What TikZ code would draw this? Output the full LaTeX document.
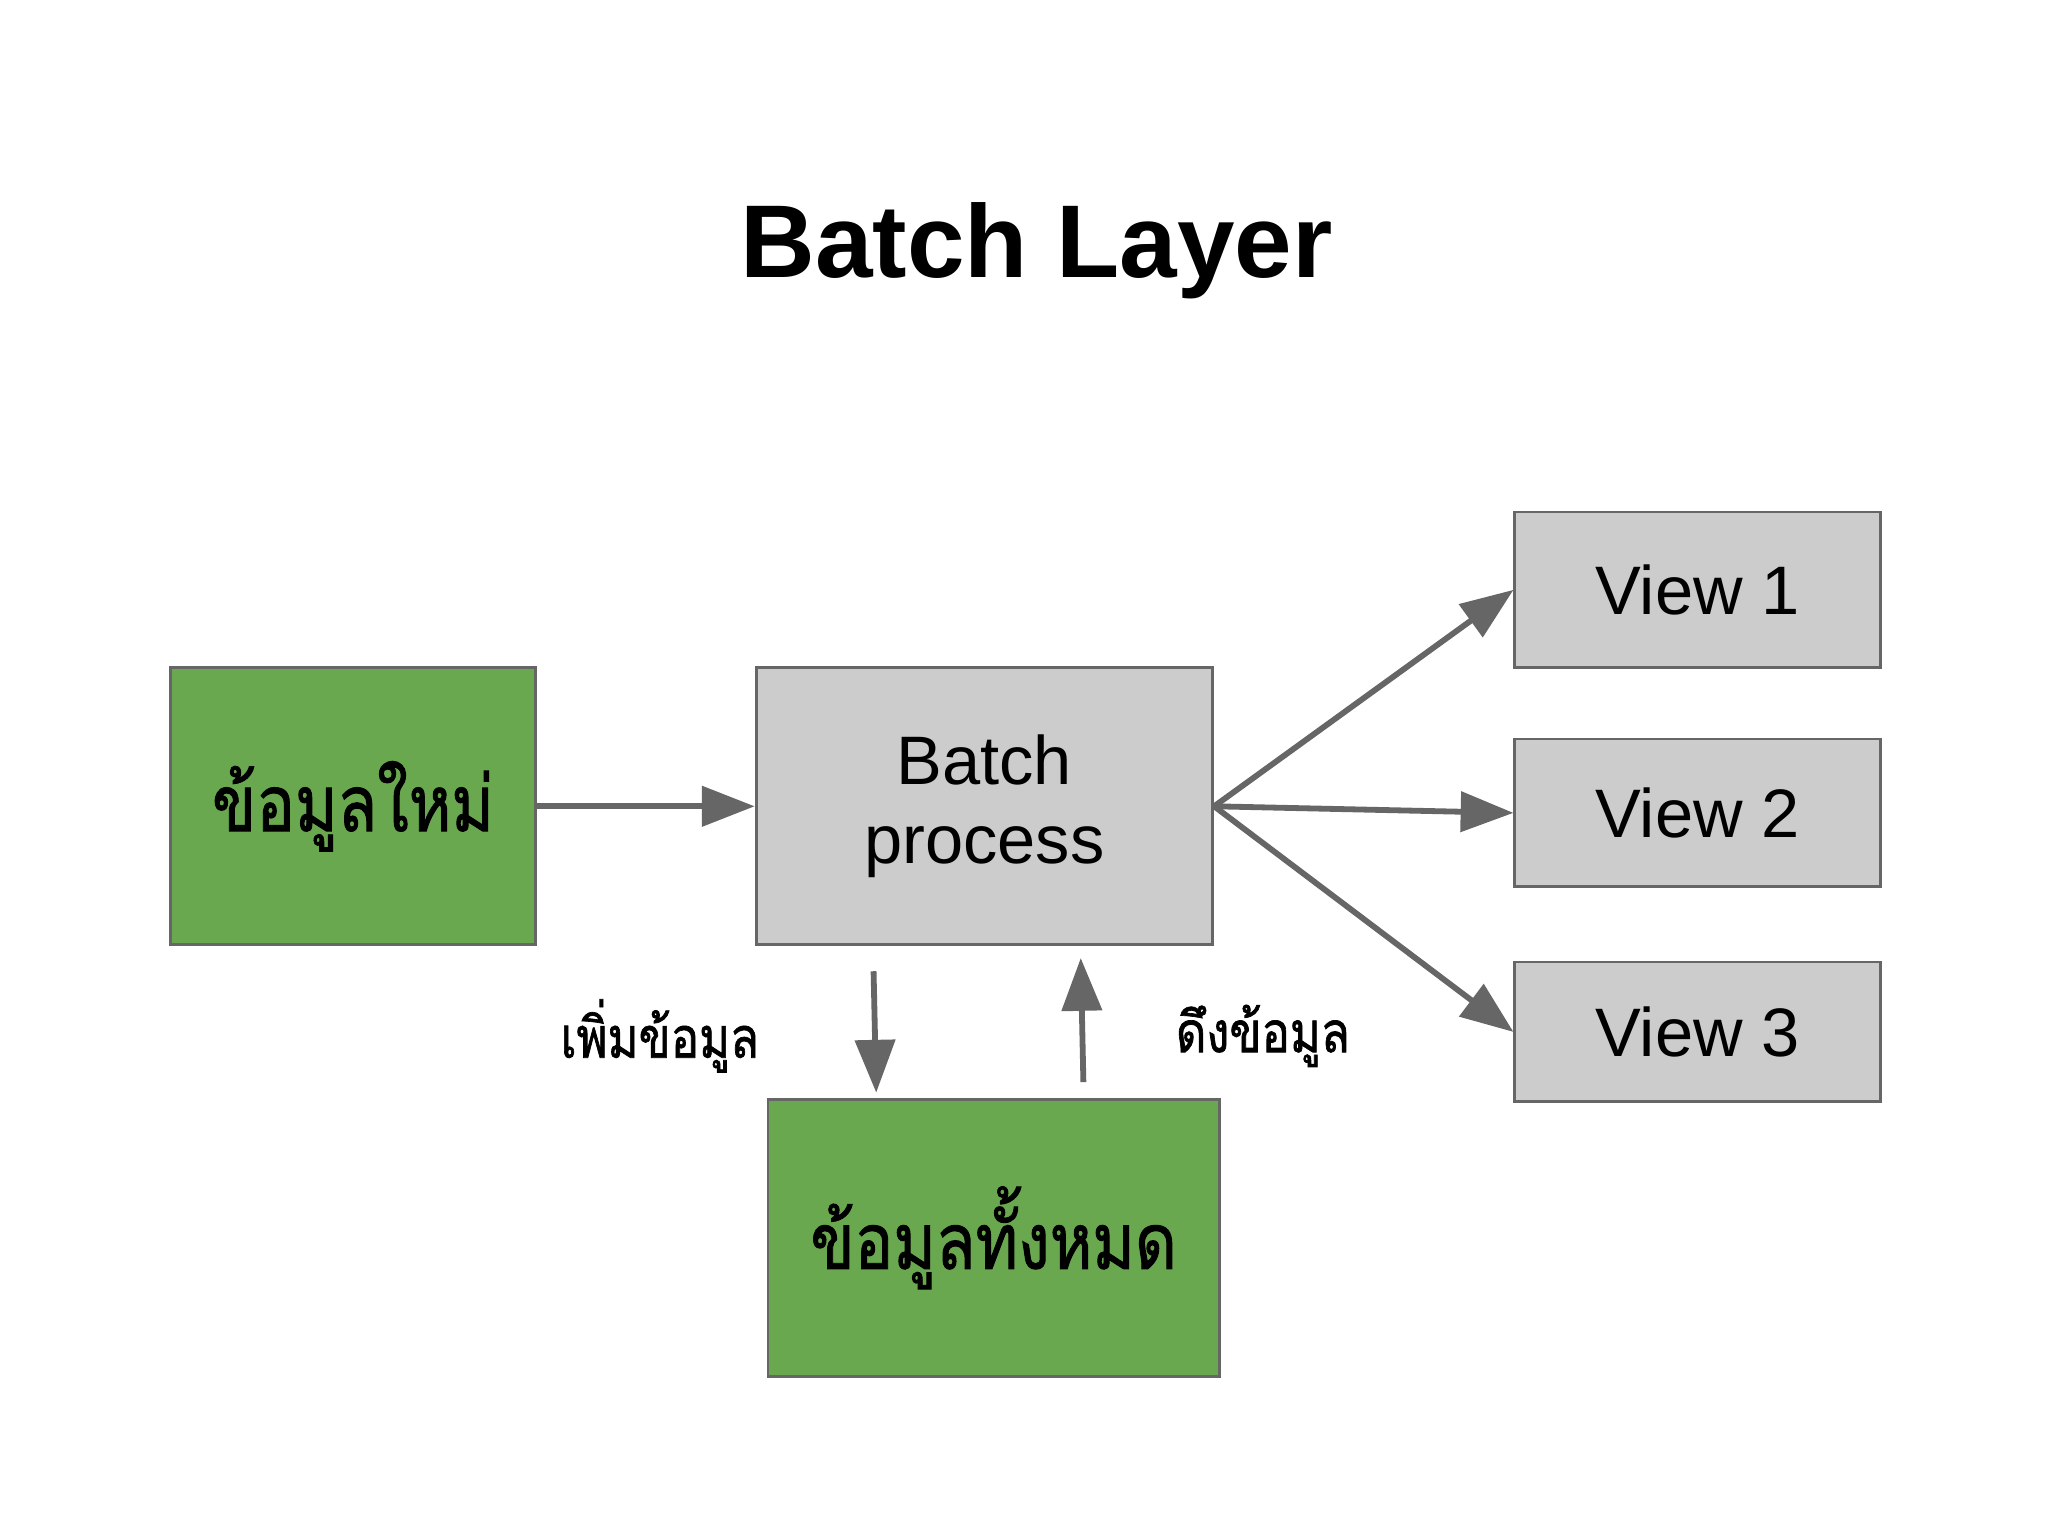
\documentclass[tikz,border=0pt]{standalone}
\usepackage{fontspec}
\setmainfont{Liberation Sans}
\newfontfamily\thaifont[Script=Thai,FakeStretch=0.83,FakeBold=1.2]{Loma}
\usetikzlibrary{arrows.meta}
\definecolor{boxgreen}{HTML}{6AA84F}
\definecolor{boxgray}{HTML}{CCCCCC}
\definecolor{linegray}{HTML}{666666}
\begin{document}
\begin{tikzpicture}[x=0.5pt,y=-0.5pt,
  greenbox/.style={draw=linegray,line width=1.1pt,fill=boxgreen,minimum width=138.5pt,minimum height=105pt,inner sep=0pt,font=\thaifont\fontsize{29.5}{35}\selectfont},
  graybox/.style={draw=linegray,line width=1.1pt,fill=boxgray,inner sep=0pt,font=\fontsize{26}{30}\selectfont,align=center},
  arr/.style={draw=linegray,line width=2.2pt,-{Triangle[length=20pt,width=15pt]}},
  lbl/.style={font=\thaifont\fontsize{21.5}{26}\selectfont,inner sep=0pt}]
\useasboundingbox[fill=white] (0,0) rectangle (1552,1164);
\node[anchor=base,font=\bfseries\fontsize{39.2}{47}\selectfont,inner sep=0pt] (title) at (785.5,210) {Batch Layer};
\node[greenbox] (new) at (267.5,611) {ข้อมูลใหม่};
\node[graybox,minimum width=173pt,minimum height=105pt] (batch) at (746,611) {Batch\\process};
\node[graybox,minimum width=138.5pt,minimum height=59pt] (v1) at (1286.5,447) {View 1};
\node[graybox,minimum width=138.5pt,minimum height=56pt] (v2) at (1286.5,616) {View 2};
\node[graybox,minimum width=138.5pt,minimum height=53pt] (v3) at (1286.5,782) {View 3};
\node[greenbox,minimum width=171pt] (all) at (753,938) {ข้อมูลทั้งหมด};
\node[lbl] (addlbl) at (500,785) {เพิ่มข้อมูล};
\node[lbl] (getlbl) at (957,785) {ดึงข้อมูล};
\coordinate (dtop) at (662,736);
\coordinate (dbot) at (664,828);
\coordinate (ubot) at (821,820);
\coordinate (utop) at (819,726);
\draw[arr] (new.east) -- (batch.west);
\draw[arr] (batch.east) -- (v1.west);
\draw[arr] (batch.east) -- (v2.west);
\draw[arr] (batch.east) -- (v3.west);
\draw[arr] (dtop) -- (dbot);
\draw[arr] (ubot) -- (utop);
\end{tikzpicture}
\end{document}
